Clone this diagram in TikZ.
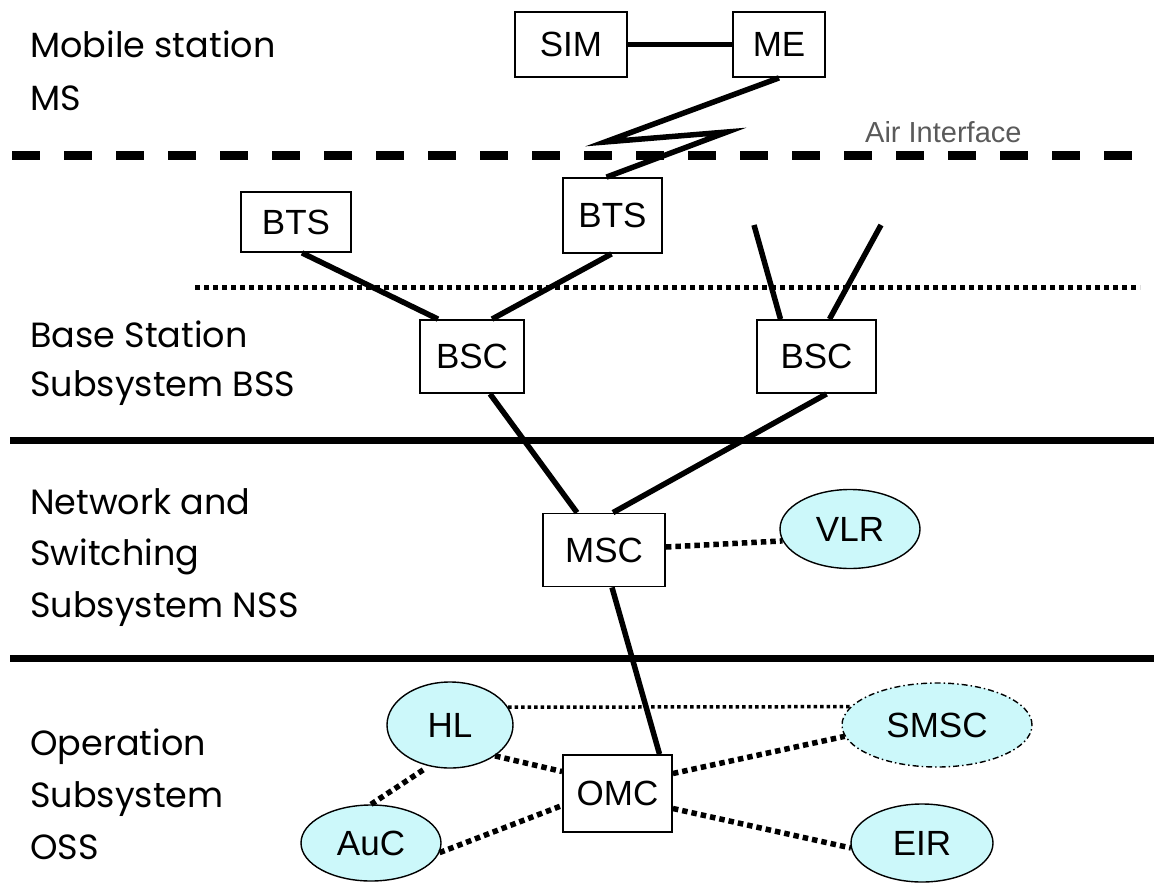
\documentclass[tikz,border=0pt]{standalone}
\usepackage{fontspec}
\setmainfont{Liberation Sans}
\newfontfamily\labelfont{Poppins}
\usetikzlibrary{shapes.geometric}
\definecolor{cellfill}{RGB}{204,248,250}
\definecolor{airgray}{RGB}{90,90,90}
\begin{document}
\begin{tikzpicture}[x=1pt,y=-1pt,
  box/.style={draw, line width=1.8pt, rectangle, inner sep=0pt, font=\fontsize{35}{40}\selectfont},
  cell/.style={draw, ellipse, fill=cellfill, line width=1.4pt, inner sep=0pt, font=\fontsize{35}{40}\selectfont},
  lbl/.style={anchor=base west, inner sep=0pt, font=\labelfont\fontsize{35}{40}\selectfont},
  link/.style={line width=5.5pt},
  dotlink/.style={line width=5.5pt, dash pattern=on 5.5pt off 4pt},
  thindot/.style={line width=3.5pt, dash pattern=on 3.5pt off 3pt},
  sep/.style={line width=7pt},
]
\useasboundingbox (0,0) rectangle (1154,886);

% separators
\coordinate (d1) at (12,155); \coordinate (d2) at (1154,155);
\draw[line width=9pt, dash pattern=on 28pt off 24pt] (d1) -- (d2);
\coordinate (p1) at (195,287); \coordinate (p2) at (1140,287);
\draw[line width=5pt, dash pattern=on 5pt off 4pt] (p1) -- (p2);
\coordinate (s1) at (10,440); \coordinate (s2) at (1154,440);
\draw[sep] (s1) -- (s2);
\coordinate (t1) at (10,658); \coordinate (t2) at (1154,658);
\draw[sep] (t1) -- (t2);

% left labels
\node[lbl] (l1) at (30,57) {Mobile station};
\node[lbl] (l2) at (30,110) {MS};
\node[lbl] (l3) at (30,347) {Base Station};
\node[lbl] (l4) at (30,396) {Subsystem BSS};
\node[lbl] (l5) at (30,514) {Network and};
\node[lbl] (l6) at (30,565) {Switching};
\node[lbl] (l7) at (30,617) {Subsystem NSS};
\node[lbl] (l8) at (30,755) {Operation};
\node[lbl] (l9) at (30,807) {Subsystem};
\node[lbl] (l10) at (30,859) {OSS};

\node[anchor=base west, inner sep=0pt, text=airgray, font=\fontsize{29}{32}\selectfont] (air) at (865,142) {Air Interface};

% boxes
\node[box, minimum width=112, minimum height=65] (SIM) at (571,44.5) {SIM};
\node[box, minimum width=92, minimum height=65] (ME) at (779,44.5) {ME};
\node[box, minimum width=110, minimum height=60] (BTS1) at (296,222) {BTS};
\node[box, minimum width=99, minimum height=75] (BTS2) at (612.5,215.5) {BTS};
\node[box, minimum width=104, minimum height=73] (BSC1) at (472,356.5) {BSC};
\node[box, minimum width=119, minimum height=73] (BSC2) at (816.5,356.5) {BSC};
\node[box, minimum width=122, minimum height=73] (MSC) at (604,550) {MSC};
\node[box, minimum width=109, minimum height=77] (OMC) at (617.5,793.5) {OMC};

% ellipses
\node[cell, minimum width=140, minimum height=79] (VLR) at (850,529) {VLR};
\node[cell, minimum width=126, minimum height=86] (HL) at (450,725) {HL};
\node[cell, minimum width=190, minimum height=84, dash pattern=on 6pt off 3pt on 1.5pt off 3pt] (SMSC) at (937,725) {SMSC};
\node[cell, minimum width=140, minimum height=76] (AuC) at (371,843) {AuC};
\node[cell, minimum width=142, minimum height=78] (EIR) at (922,843) {EIR};

% MS connections
\draw[link] (SIM.east) -- (ME.west);
\coordinate (z1) at (605,142);
\coordinate (z2) at (727,132);
\draw[link, line join=miter] (ME.south) -- (z1) -- (z2) -- ([xshift=-6pt]BTS2.north);

% BSS connections
\draw[link] ([xshift=6pt]BTS1.south) -- ([xshift=-34pt]BSC1.north);
\draw[link] ([xshift=-1pt]BTS2.south) -- ([xshift=20pt]BSC1.north);
\coordinate (f1) at (754,225);
\coordinate (f2) at (881,225);
\draw[link] (f1) -- ([xshift=-36pt]BSC2.north);
\draw[link] (f2) -- ([xshift=13pt]BSC2.north);

% NSS connections
\draw[link] ([xshift=18pt]BSC1.south) -- ([xshift=-27pt]MSC.north);
\draw[link] ([xshift=10pt]BSC2.south) -- ([xshift=9pt]MSC.north);
\draw[dotlink] ([yshift=3pt]MSC.east) -- (VLR.190);
\draw[link] ([xshift=8pt]MSC.south) -- ([xshift=42pt]OMC.north);

% OSS connections
\draw[thindot] (HL.17) -- (SMSC.168);
\draw[dotlink] (HL.south east) -- ([yshift=22pt]OMC.west);
\draw[dotlink] (AuC.north) -- ([xshift=-25pt]HL.south);
\draw[dotlink] (AuC.352) -- ([yshift=-12pt]OMC.west);
\draw[dotlink] ([yshift=20pt]OMC.east) -- (SMSC.187);
\draw[dotlink] ([yshift=-15pt]OMC.east) -- (EIR.184);
\end{tikzpicture}
\end{document}
